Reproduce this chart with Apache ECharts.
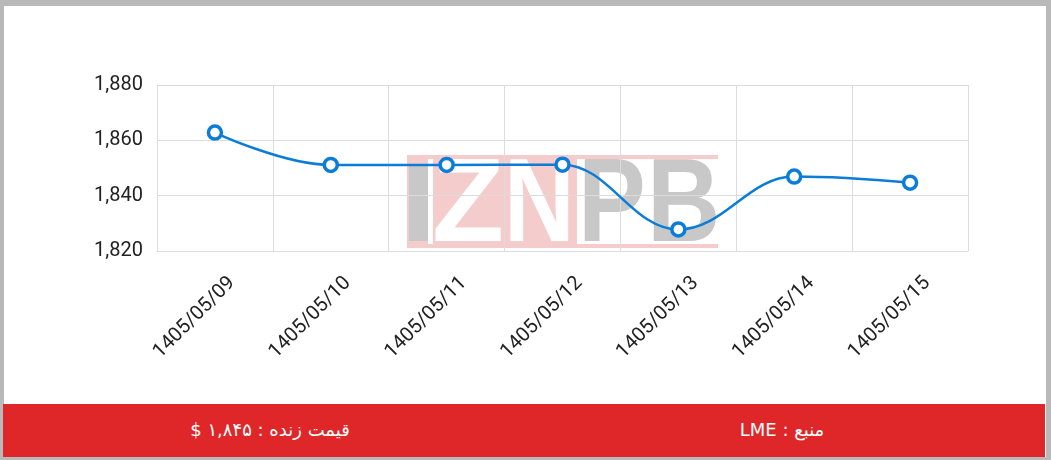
<!DOCTYPE html>
<html>
<head>
<meta charset="utf-8">
<script src="https://cdn.jsdelivr.net/npm/echarts@6/dist/echarts.min.js"></script>
<style>
html,body{margin:0;padding:0;width:1051px;height:460px;overflow:hidden;background:#b9b9b9;}
#frame{position:absolute;left:4px;top:6px;width:1042px;height:451px;background:#fff;}
#chart{position:absolute;left:0;top:0;width:1051px;height:460px;}
#footer{position:absolute;left:3px;top:404px;width:1042px;height:53px;background:#df2628;}
.ft{position:absolute;top:0;height:53px;line-height:52px;color:#fff;font-family:"DejaVu Sans","Noto Sans",sans-serif;font-size:18px;font-weight:normal;direction:rtl;white-space:nowrap;transform:translateX(-50%);}
</style>
</head>
<body>
<div id="frame"></div>
<div id="chart"></div>
<div id="footer">
  <div class="ft" style="left:267px;">قیمت زنده : ۱,۸۴۵ $</div>
  <div class="ft" style="left:779px;">منبع : LME</div>
</div>
<script>
const categories = ['1405/05/09','1405/05/10','1405/05/11','1405/05/12','1405/05/13','1405/05/14','1405/05/15'];
const prices = [1862.8, 1851.1, 1851.1, 1851.2, 1827.8, 1846.9, 1844.7];
const yTicks = [1820, 1840, 1860, 1880];

const chart = echarts.init(document.getElementById('chart'), null, {renderer:'canvas'});
const gridColor = '#dcdcdc';
const wmFont = 'bold 118px "Liberation Sans", Arial';
function letter(ch, x, sx, fill){
  return {type:'text', x:x, y:267, scaleX:sx, originX:0, originY:0,
    style:{text:ch, fill:fill, font:wmFont, textVerticalAlign:'bottom', textAlign:'left'}};
}
chart.setOption({
  backgroundColor: 'transparent',
  animation: false,
  grid: {left:157, right:83, top:85, bottom:209, containLabel:false},
  graphic: [
    {type:'group', z:-10, silent:true, children:[
      {type:'rect', shape:{x:407,y:155,width:311,height:4}, style:{fill:'#f5cccc'}},
      {type:'rect', shape:{x:407,y:244,width:311,height:4}, style:{fill:'#f5cccc'}},
      {type:'rect', shape:{x:407,y:155,width:170,height:93}, style:{fill:'#f5cccc'}},
      {type:'rect', shape:{x:409,y:164,width:19,height:77}, style:{fill:'#c8c8c8'}},
      {type:'rect', shape:{x:428,y:159,width:5,height:85}, style:{fill:'#ffffff'}},
      letter('Z', 432, 1.0, '#ffffff'),
      letter('N', 504, 0.83, '#ffffff'),
      letter('P', 578, 0.86, '#c8c8c8'),
      letter('B', 647, 0.86, '#c8c8c8')
    ]}
  ],
  xAxis: {
    type:'category',
    data: categories,
    boundaryGap: true,
    axisLine:{show:true, lineStyle:{color:gridColor}},
    axisTick:{show:false},
    splitLine:{show:true, lineStyle:{color:gridColor, width:1}},
    axisLabel:{
      interval:0, rotate:45, margin:46,
      color:'#222', fontFamily:'Roboto', fontSize:20,
      padding:[0,-24,0,0]
    }
  },
  yAxis: {
    type:'value',
    min: yTicks[0], max: yTicks[yTicks.length-1], interval: 20,
    axisLine:{show:false},
    axisTick:{show:false},
    splitLine:{show:true, lineStyle:{color:gridColor, width:1}},
    axisLabel:{
      margin:14, color:'#222', fontFamily:'Roboto', fontSize:20,
      formatter: v => v.toLocaleString('en-US')
    }
  },
  series: [{
    type:'line',
    data: prices,
    smooth: 0.4,
    smoothMonotone: 'x',
    symbol:'circle',
    symbolSize: 13,
    lineStyle:{color:'#0b7dd8', width:2.5},
    itemStyle:{color:'#ffffff', borderColor:'#0b7dd8', borderWidth:3.5},
    z:5
  }]
});
</script>
</body>
</html>
